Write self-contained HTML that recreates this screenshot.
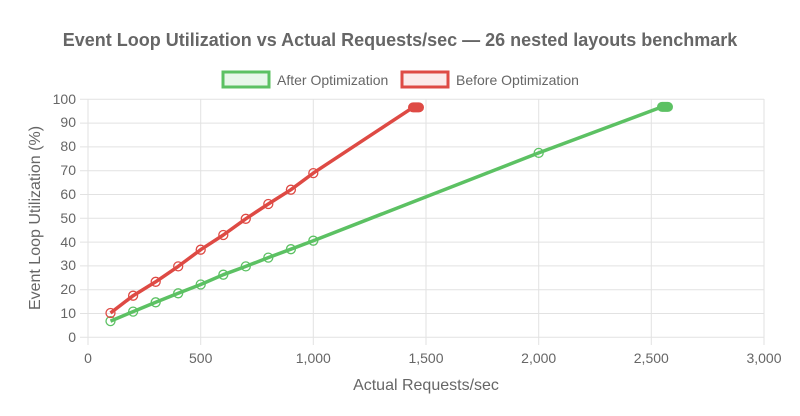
<!DOCTYPE html>
<html><head><meta charset="utf-8"><style>body{margin:0;background:#fff}svg{display:block}</style></head><body>
<svg width="800" height="416" viewBox="0 0 800 416" font-family="Liberation Sans, Arial, sans-serif">
<rect width="800" height="416" fill="#fff"/>
<text x="400" y="46" text-anchor="middle" font-size="18" font-weight="bold" fill="#666">Event Loop Utilization vs Actual Requests/sec — 26 nested layouts benchmark</text>
<rect x="223" y="72" width="46" height="15" fill="#e8f7ea" stroke="#5cc163" stroke-width="3"/>
<text x="277" y="85" font-size="14" fill="#666">After Optimization</text>
<rect x="402" y="72" width="46" height="15" fill="#fbeaea" stroke="#de4a44" stroke-width="3"/>
<text x="456" y="85" font-size="14" fill="#666">Before Optimization</text>
<g stroke="#e2e2e2" stroke-width="1">
<line x1="80" y1="337.3" x2="764" y2="337.3"/><line x1="80" y1="313.5" x2="764" y2="313.5"/><line x1="80" y1="289.7" x2="764" y2="289.7"/><line x1="80" y1="265.9" x2="764" y2="265.9"/><line x1="80" y1="242.1" x2="764" y2="242.1"/><line x1="80" y1="218.3" x2="764" y2="218.3"/><line x1="80" y1="194.5" x2="764" y2="194.5"/><line x1="80" y1="170.7" x2="764" y2="170.7"/><line x1="80" y1="146.9" x2="764" y2="146.9"/><line x1="80" y1="123.1" x2="764" y2="123.1"/><line x1="80" y1="99.3" x2="764" y2="99.3"/>
<line x1="88" y1="99" x2="88" y2="345"/><line x1="200.7" y1="99" x2="200.7" y2="345"/><line x1="313.3" y1="99" x2="313.3" y2="345"/><line x1="426" y1="99" x2="426" y2="345"/><line x1="538.7" y1="99" x2="538.7" y2="345"/><line x1="651.3" y1="99" x2="651.3" y2="345"/><line x1="764" y1="99" x2="764" y2="345"/>
</g>
<g font-size="14" fill="#666" text-anchor="end">
<text x="76" y="342">0</text><text x="76" y="318">10</text><text x="76" y="294">20</text><text x="76" y="270">30</text><text x="76" y="247">40</text><text x="76" y="223">50</text><text x="76" y="199">60</text><text x="76" y="175">70</text><text x="76" y="151">80</text><text x="76" y="127">90</text><text x="76" y="104">100</text>
</g>
<g font-size="14" fill="#666" text-anchor="middle">
<text x="88" y="363">0</text><text x="200.7" y="363">500</text><text x="313.3" y="363">1,000</text><text x="426" y="363">1,500</text><text x="538.7" y="363">2,000</text><text x="651.3" y="363">2,500</text><text x="764" y="363">3,000</text>
</g>
<text x="426" y="390" text-anchor="middle" font-size="16" fill="#666">Actual Requests/sec</text>
<text transform="translate(40 218) rotate(-90)" text-anchor="middle" font-size="16" fill="#666">Event Loop Utilization (%)</text>
<polyline fill="none" stroke="#5cc163" stroke-width="3.5" stroke-linejoin="round" points="110.5,321.1 133.1,311.6 155.7,302.3 178.2,293.3 200.7,284.5 223.3,274.7 245.8,266.4 268.3,257.6 290.9,249.2 313.3,240.7 538.7,152.9 662,106.9 668,106.9"/>
<polyline fill="none" stroke="#de4a44" stroke-width="3.5" stroke-linejoin="round" points="110.5,313 133.1,295.7 155.7,281.8 178.2,266.4 200.7,249.7 223.3,235 245.8,218.8 268.3,204 290.9,189.7 313.3,173.1 413,107.4 420,107.4"/>
<g fill="none" stroke="#5cc163" stroke-width="1.3">
<circle cx="110.5" cy="321.1" r="4.5"/><circle cx="133.1" cy="311.6" r="4.5"/><circle cx="155.7" cy="302.3" r="4.5"/><circle cx="178.2" cy="293.3" r="4.5"/><circle cx="200.7" cy="284.5" r="4.5"/><circle cx="223.3" cy="274.7" r="4.5"/><circle cx="245.8" cy="266.4" r="4.5"/><circle cx="268.3" cy="257.6" r="4.5"/><circle cx="290.9" cy="249.2" r="4.5"/><circle cx="313.3" cy="240.7" r="4.5"/><circle cx="538.7" cy="152.9" r="4.5"/>
</g>
<g fill="none" stroke="#de4a44" stroke-width="1.3">
<circle cx="110.5" cy="313" r="4.5"/><circle cx="133.1" cy="295.7" r="4.5"/><circle cx="155.7" cy="281.8" r="4.5"/><circle cx="178.2" cy="266.4" r="4.5"/><circle cx="200.7" cy="249.7" r="4.5"/><circle cx="223.3" cy="235" r="4.5"/><circle cx="245.8" cy="218.8" r="4.5"/><circle cx="268.3" cy="204" r="4.5"/><circle cx="290.9" cy="189.7" r="4.5"/><circle cx="313.3" cy="173.1" r="4.5"/>
</g>
<rect x="408" y="102.4" width="16" height="10" rx="5" fill="#de4a44"/>
<rect x="657" y="101.9" width="16" height="10" rx="5" fill="#5cc163"/>
</svg>
</body></html>
